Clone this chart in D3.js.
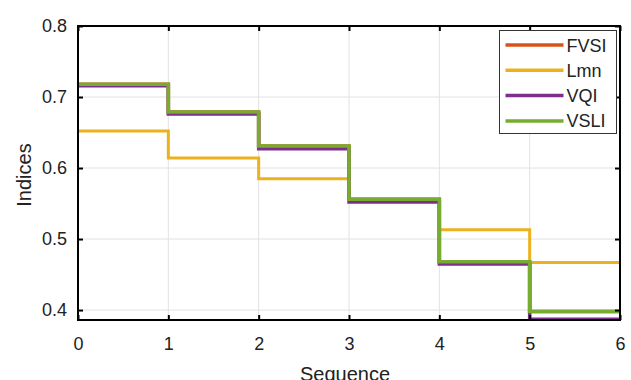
<!DOCTYPE html>
<html>
<head>
<meta charset="utf-8">
<script src="https://cdn.jsdelivr.net/npm/d3@7"></script>
<style>
  html, body { margin: 0; padding: 0; background: #fff; }
  svg { display: block; font-family: "Liberation Sans", Arial, sans-serif; }
</style>
</head>
<body>
<svg id="chart" width="631" height="380"></svg>
<script>
// Stability indices per sequence step (value i holds on [i, i+1))
const steps = [0, 1, 2, 3, 4, 5];
const seriesNames = ["FVSI", "Lmn", "VQI", "VSLI"];
const seriesColors = ["#D95319", "#EDB120", "#7E2F8E", "#77AC30"];
const fvsi = [0.718, 0.679, 0.631, 0.556, 0.468, 0.398];
const lmn  = [0.652, 0.614, 0.585, 0.556, 0.513, 0.467];
const vqi  = [0.716, 0.676, 0.627, 0.552, 0.465, 0.387];
const vsli = [0.718, 0.679, 0.631, 0.556, 0.468, 0.398];
const xTicks = [0, 1, 2, 3, 4, 5, 6];
const yTicks = [0.4, 0.5, 0.6, 0.7, 0.8];

const seriesValues = [fvsi, lmn, vqi, vsli];
const seriesWidths = [3.5, 3, 3.5, 3.6];

const svg = d3.select("#chart");
const margin = { left: 78, right: 12, top: 26, bottom: 60 };
const W = 631, H = 380;
const x = d3.scaleLinear().domain([0, 6]).range([margin.left, W - margin.right + 1]);
const y = d3.scaleLinear().domain([0.386, 0.8]).range([H - margin.bottom, margin.top]);

const x0 = x.range()[0], x1 = x.range()[1];
const y0 = y.range()[0], y1 = y.range()[1];

// grid
const grid = svg.append("g").attr("stroke", "#e2e2e2").attr("stroke-width", 1);
xTicks.slice(1, -1).forEach(t => grid.append("line")
  .attr("x1", x(t)).attr("x2", x(t)).attr("y1", y0).attr("y2", y1));
yTicks.slice(0, -1).forEach(t => grid.append("line")
  .attr("x1", x0).attr("x2", x1).attr("y1", y(t)).attr("y2", y(t)));

// step lines
const line = d3.line()
  .x(d => x(d[0]))
  .y(d => y(d[1]))
  .curve(d3.curveStepAfter);

seriesValues.forEach((vals, i) => {
  const pts = steps.map((s, j) => [s, vals[j]]);
  pts.push([6, vals[vals.length - 1]]);
  svg.append("path")
    .datum(pts)
    .attr("fill", "none")
    .attr("stroke", seriesColors[i])
    .attr("stroke-width", seriesWidths[i])
    .attr("d", line);
});

// axes: bottom/left with labels, top/right tick-only, all ticks inward
const tickLen = 5;
const ax = svg.append("g");
ax.append("g").attr("transform", `translate(0,${y0})`)
  .call(d3.axisBottom(x).tickValues(xTicks).tickSizeInner(-tickLen).tickSizeOuter(0).tickPadding(17).tickFormat(d3.format("d")));
ax.append("g").attr("transform", `translate(${x0},0)`)
  .call(d3.axisLeft(y).tickValues(yTicks).tickSizeInner(-tickLen).tickSizeOuter(0).tickPadding(11).tickFormat(d3.format(".1f")));
ax.append("g").attr("transform", `translate(0,${y1})`)
  .call(d3.axisTop(x).tickValues(xTicks).tickSizeInner(-tickLen).tickSizeOuter(0).tickFormat(""));
ax.append("g").attr("transform", `translate(${x1},0)`)
  .call(d3.axisRight(y).tickValues(yTicks).tickSizeInner(-tickLen).tickSizeOuter(0).tickFormat(""));
ax.selectAll(".domain").attr("stroke", "none");
ax.selectAll(".tick line").attr("stroke", "#000").attr("stroke-width", 2);
ax.selectAll(".tick text").attr("font-size", 18).attr("fill", "#222")
  .attr("font-family", "'Liberation Sans', Arial, sans-serif");

// frame
svg.append("rect")
  .attr("x", x0).attr("y", y1)
  .attr("width", x1 - x0).attr("height", y0 - y1)
  .attr("fill", "none").attr("stroke", "#000").attr("stroke-width", 2);

// axis titles
svg.append("text")
  .attr("transform", `translate(31,${(y0 + y1) / 2 + 2}) rotate(-90)`)
  .attr("text-anchor", "middle").attr("font-size", 20).attr("fill", "#222")
  .text("Indices");
svg.append("text")
  .attr("x", (x0 + x1) / 2 - 4).attr("y", 381)
  .attr("text-anchor", "middle").attr("font-size", 20).attr("fill", "#222")
  .text("Sequence");

// legend
const lg = svg.append("g").attr("transform", "translate(499.5,30.5)");
lg.append("rect").attr("width", 117).attr("height", 103)
  .attr("fill", "#fff").attr("stroke", "#333").attr("stroke-width", 1);
seriesNames.forEach((name, i) => {
  const yy = 14.5 + i * 25.3;
  lg.append("line").attr("x1", 6).attr("x2", 64).attr("y1", yy).attr("y2", yy)
    .attr("stroke", seriesColors[i]).attr("stroke-width", 3.5);
  lg.append("text").attr("x", 67).attr("y", yy + 6.5)
    .attr("font-size", 18).attr("fill", "#222").text(name);
});
</script>
</body>
</html>
